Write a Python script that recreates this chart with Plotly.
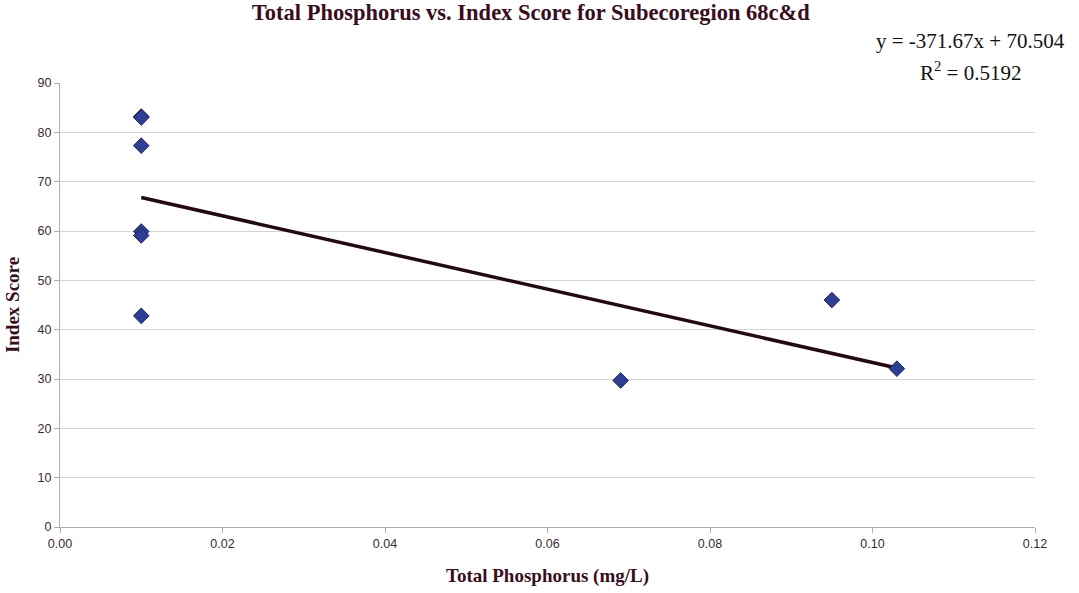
import plotly.graph_objects as go

phosphorus = [0.01, 0.01, 0.01, 0.01, 0.01, 0.01, 0.069, 0.095, 0.103]
index_score = [83.2, 83.0, 77.3, 59.9, 59.1, 42.8, 29.7, 46.0, 32.1]
slope = -371.67
intercept = 70.504
r2 = 0.5192
x_ticks = [0.0, 0.02, 0.04, 0.06, 0.08, 0.10, 0.12]
x_tick_labels = ["0.00", "0.02", "0.04", "0.06", "0.08", "0.10", "0.12"]
y_ticks = [0, 10, 20, 30, 40, 50, 60, 70, 80, 90]

x0, x1 = min(phosphorus), max(phosphorus)
trend_x = [x0, x1]
trend_y = [slope * v + intercept for v in trend_x]

maroon = "#3a0d1c"
fig = go.Figure()
fig.add_trace(go.Scatter(x=trend_x, y=trend_y, mode="lines",
                         line=dict(color="#24090f", width=3.5), hoverinfo="skip"))
fig.add_trace(go.Scatter(x=phosphorus, y=index_score, mode="markers",
                         marker=dict(symbol="diamond", size=12, color="#2e3f93",
                                     line=dict(color="#1a2560", width=1))))

fig.update_layout(
    width=1079, height=593,
    margin=dict(l=60, r=44, t=83, b=66, autoexpand=False),
    paper_bgcolor="white", plot_bgcolor="white",
    showlegend=False,
    title=dict(text="<b>Total Phosphorus vs. Index Score for Subecoregion 68c&d</b>",
               x=0.492, xanchor="center", y=0.992, yanchor="top",
               font=dict(family="Liberation Serif", size=22.5, color=maroon)),
    xaxis=dict(range=[0, 0.12], tickvals=x_ticks, ticktext=x_tick_labels, automargin=False,
               showgrid=False, zeroline=False, showline=True, linecolor="#b8a8ac", linewidth=1,
               ticks="outside", ticklen=5, tickcolor="#b8a8ac",
               tickfont=dict(family="Liberation Sans", size=12.5, color="#3a2a30"),
               title=dict(text="<b>Total Phosphorus (mg/L)</b>", standoff=18,
                          font=dict(family="Liberation Serif", size=19, color=maroon))),
    yaxis=dict(range=[0, 90], tickvals=y_ticks, automargin=False,
               showgrid=True, gridcolor="#d4d4d4", gridwidth=1, zeroline=False,
               showline=True, linecolor="#b8a8ac", linewidth=1,
               ticks="outside", ticklen=5, tickcolor="#b8a8ac",
               tickfont=dict(family="Liberation Sans", size=12.5, color="#3a2a30"),
               title=dict(text="<b>Index Score</b>", standoff=12,
                          font=dict(family="Liberation Serif", size=19, color=maroon))),
)
fig.add_annotation(text=f"y = {slope}x + {intercept}", xref="paper", yref="paper",
                   x=0.934, y=1.0946, xanchor="center", yanchor="middle",
                   showarrow=False, font=dict(family="Liberation Serif", size=21, color="#111111"))
fig.add_annotation(text=f"R<sup>2</sup> = {r2}", xref="paper", yref="paper",
                   x=0.934, y=1.0248, xanchor="center", yanchor="middle",
                   showarrow=False, font=dict(family="Liberation Serif", size=21, color="#111111"))
fig.write_html("out.html")
